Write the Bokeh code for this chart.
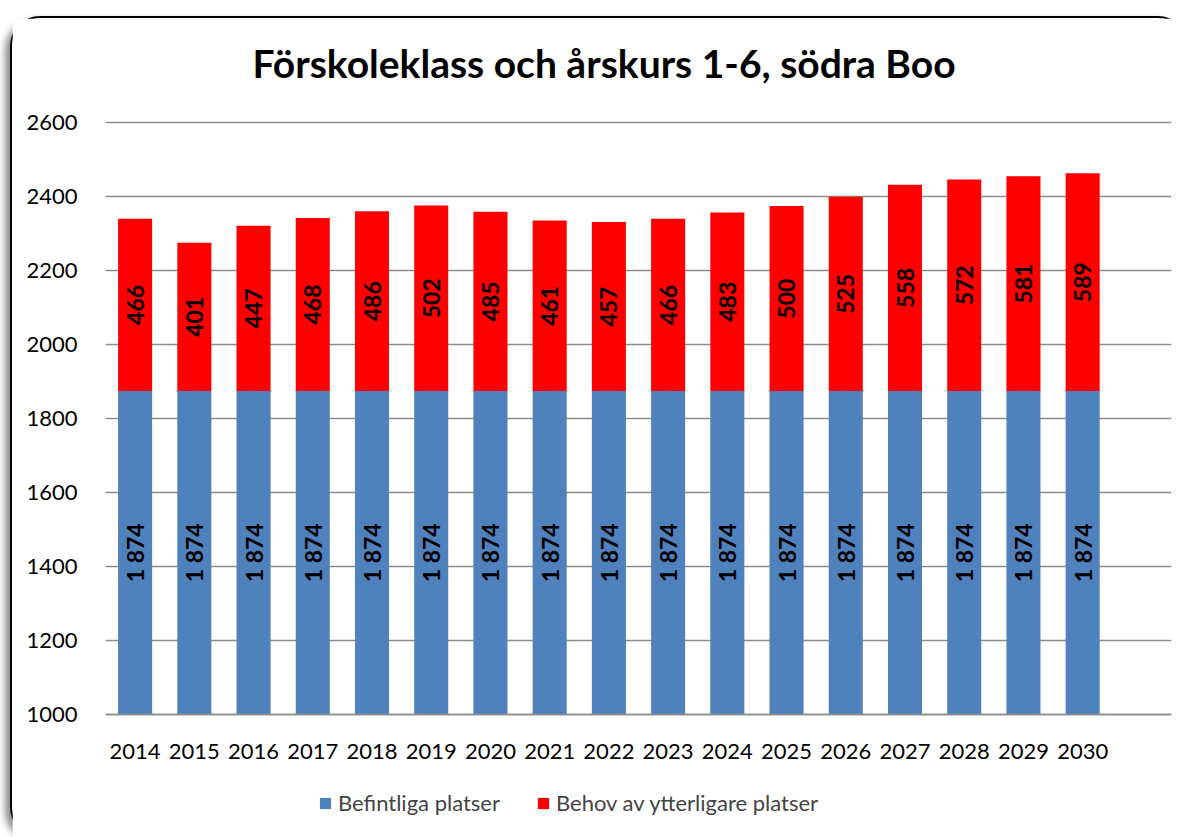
import math
from bokeh.plotting import figure
from bokeh.models import ColumnDataSource, Legend, LegendItem, FixedTicker, Range1d
from bokeh.core.properties import value
from bokeh.embed import file_html
from bokeh.resources import INLINE

years = ["2014", "2015", "2016", "2017", "2018", "2019", "2020", "2021", "2022",
         "2023", "2024", "2025", "2026", "2027", "2028", "2029", "2030"]
existing = [1874] * 17
extra = [466, 401, 447, 468, 486, 502, 485, 461, 457, 466, 483, 500, 525, 558, 572, 581, 589]
y_ticks = [1000, 1200, 1400, 1600, 1800, 2000, 2200, 2400, 2600]
title_text = "Förskoleklass och årskurs 1-6, södra Boo"
series_names = ["Befintliga platser", "Behov av ytterligare platser"]

BLUE = "#4F81BD"
RED = "#FF0000"
FONT = "Lato"

base = 1000
src = ColumnDataSource(dict(
    x=years,
    bottom0=[base] * len(years),
    top0=existing,
    top1=[e + r for e, r in zip(existing, extra)],
    mid0=[(base + e) / 2 for e in existing],
    mid1=[e + r / 2 for e, r in zip(existing, extra)],
    lab0=[f"{e // 1000} {e % 1000:03d}" for e in existing],
    lab1=[str(r) for r in extra],
))

# one empty slot after the last year, as in the reference
factors = years + [" "]

W, H = 1178, 821
TOP, BOTTOM, LEFT, RIGHT = 72, 15, 93, 19
ppu = 592 / 1600          # pixels per unit on the y axis
frame_h = H - TOP - BOTTOM
y_end = 2600 + 32 / ppu    # headroom above the 2600 gridline
y_start = y_end - frame_h / ppu

p = figure(width=W, height=H, x_range=factors, y_range=Range1d(y_start, y_end),
           output_backend="svg", toolbar_location=None,
           min_border_left=LEFT, min_border_right=RIGHT,
           min_border_top=TOP, min_border_bottom=BOTTOM)
p.styles = {"margin-left": "10px", "margin-top": "16px",
            "border-top": "2px solid black", "border-left": "2px solid black",
            "border-radius": "30px", "box-sizing": "border-box",
            "box-shadow": "-5px 4px 7px rgba(0,0,0,0.45)", "background": "white"}

p.title.text = title_text
p.title.align = "left"
p.title.offset = 147
p.title.text_font = FONT
p.title.text_font_size = "39px"
p.title.text_font_style = "bold"
p.title.text_color = "black"
p.title.standoff = 10

p.outline_line_color = None
p.xgrid.grid_line_color = None
p.ygrid.grid_line_color = "#8C8C8C"
p.ygrid.grid_line_width = 1.5
p.yaxis.ticker = FixedTicker(ticks=y_ticks)
p.yaxis.axis_line_color = None
p.yaxis.major_tick_line_color = None
p.yaxis.minor_tick_line_color = None
p.yaxis.major_label_text_font = FONT
p.yaxis.major_label_text_font_size = "22px"
p.yaxis.major_label_text_color = "black"
p.yaxis.major_label_standoff = 22
p.xaxis.fixed_location = 1000
p.xaxis.axis_line_color = "#8C8C8C"
p.xaxis.axis_line_width = 1.5
p.xaxis.major_tick_line_color = None
p.xaxis.minor_tick_line_color = None
p.xaxis.major_label_text_font = FONT
p.xaxis.major_label_text_font_size = "22px"
p.xaxis.major_label_text_color = "black"
p.xaxis.major_label_standoff = 16

r0 = p.vbar(x="x", bottom="bottom0", top="top0", width=0.575, source=src,
            fill_color=BLUE, line_color=None)
r1 = p.vbar(x="x", bottom="top0", top="top1", width=0.575, source=src,
            fill_color=RED, line_color=None)

for ycol, tcol in (("mid0", "lab0"), ("mid1", "lab1")):
    p.text(x="x", y=ycol, text=tcol, source=src, angle=math.pi / 2,
           text_align="center", text_baseline="middle",
           text_font=value(FONT), text_font_size="23px", text_font_style="bold",
           text_color="black")

legend = Legend(items=[LegendItem(label=series_names[0], renderers=[r0]),
                       LegendItem(label=series_names[1], renderers=[r1])],
                orientation="horizontal", location=(213, 8), padding=4,
                label_text_font=FONT, label_text_font_size="22px",
                glyph_width=14, glyph_height=14, spacing=36, label_standoff=6,
                border_line_color=None, background_fill_alpha=0)
p.add_layout(legend, "center")

open("out.html", "w").write(file_html(p, INLINE))
